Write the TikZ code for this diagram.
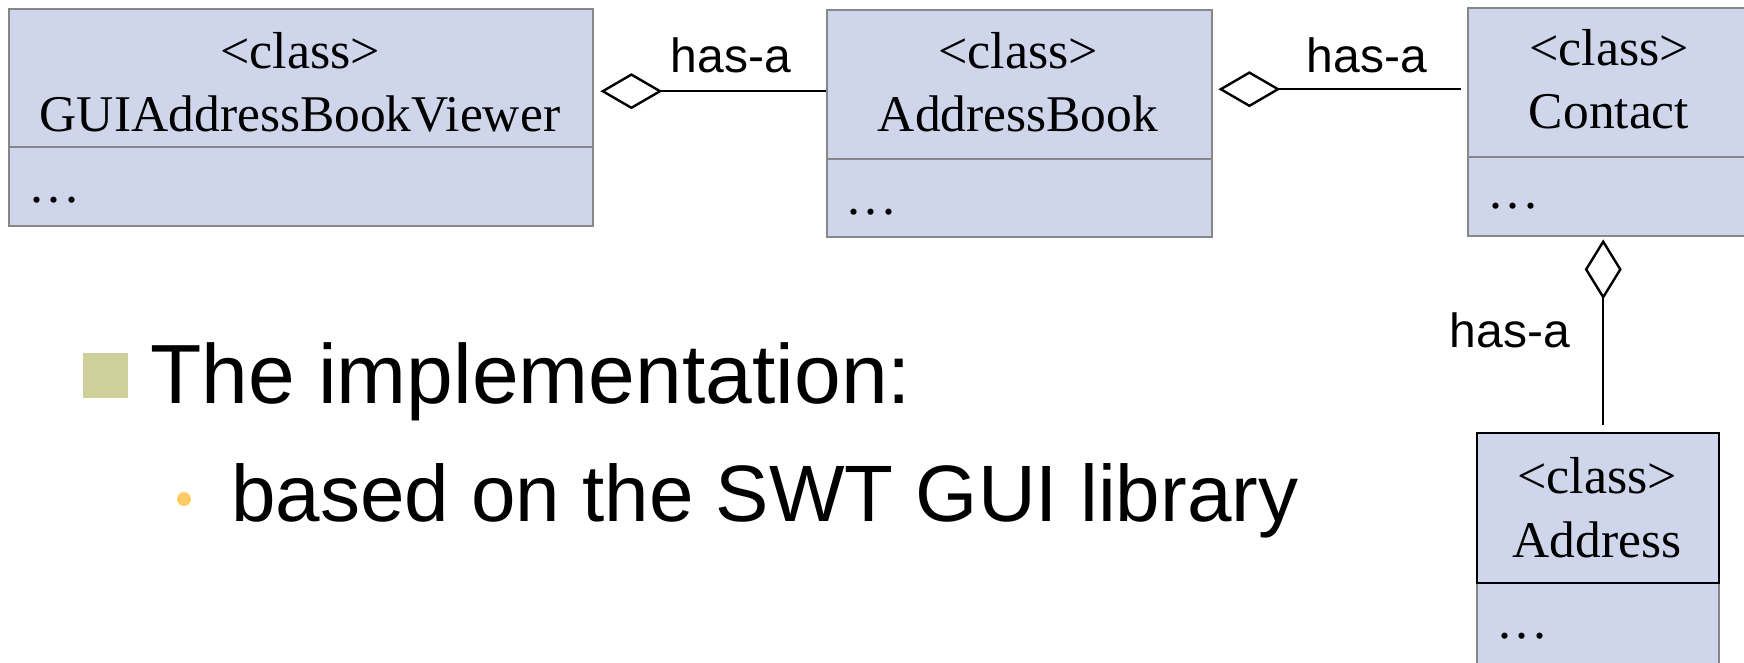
\documentclass[tikz,border=0pt]{standalone}
\usepackage{fontspec}
\setmainfont{Liberation Serif}
\setsansfont{Liberation Sans}
\usetikzlibrary{arrows.meta}
\definecolor{boxfill}{RGB}{207,213,234}
\definecolor{boxline}{RGB}{135,135,135}
\definecolor{khaki}{RGB}{207,207,155}
\definecolor{dotorange}{RGB}{255,204,102}
\newcommand{\umldots}{.\kern4.5pt.\kern4.5pt.}
\begin{document}
\begin{tikzpicture}[x=1pt,y=-1pt,
  compart/.style={draw=boxline, fill=boxfill, line width=2.4pt, inner sep=0pt, anchor=north west},
  stereo/.style={font=\fontsize{52}{60}\selectfont, anchor=base, inner sep=0pt},
  cname/.style={font=\fontsize{51.5}{60}\selectfont, anchor=base, inner sep=0pt},
  dotsty/.style={font=\fontsize{52}{60}\selectfont, anchor=base west, inner sep=0pt},
  hasa/.style={font=\sffamily\fontsize{48}{58}\selectfont, anchor=base, inner sep=0pt},
  agg/.style={line width=2.4pt, {Diamond[open, length=62pt, width=36pt]}-},
  aggv/.style={line width=2.4pt, {Diamond[open, length=60pt, width=37pt]}-}
]
\fill[white] (0,0) rectangle (1744,662);
\useasboundingbox (0,0) rectangle (1744,662);

% GUIAddressBookViewer
\node[compart, minimum width=584pt, minimum height=79pt] (guib) at (8,146) {};
\node[compart, minimum width=584pt, minimum height=138pt] (gui) at (8,8) {};
\node[stereo] (guis) at (300,68) {<class>};
\node[cname] (guin) at (300,131) {GUIAddressBookViewer};
\node[dotsty] (guid) at (30,202) {\umldots};

% AddressBook
\node[compart, minimum width=385pt, minimum height=78pt] (abb) at (826,158) {};
\node[compart, minimum width=385pt, minimum height=149pt] (ab) at (826,9) {};
\node[stereo] (abs) at (1018,68) {<class>};
\node[cname] (abn) at (1018,131) {AddressBook};
\node[dotsty] (abd) at (847,214) {\umldots};

% Contact
\node[compart, minimum width=284pt, minimum height=79pt] (ctb) at (1467,156) {};
\node[compart, minimum width=284pt, minimum height=149pt] (ct) at (1467,7) {};
\node[stereo] (cts) at (1609,65) {<class>};
\node[cname] (ctn) at (1609,128) {Contact};
\node[dotsty] (ctd) at (1489,208) {\umldots};

% Address
\node[compart, minimum width=242pt, minimum height=100pt] (adb) at (1476,582) {};
\node[compart, draw=black, minimum width=242pt, minimum height=150pt] (ad) at (1476,432) {};
\node[stereo] (ads) at (1597,493) {<class>};
\node[cname] (adn) at (1597,557) {Address};
\node[dotsty] (add) at (1498,638) {\umldots};

% connectors
\draw[agg, shorten <=6pt] ([yshift=-13pt]gui.east) -- ([yshift=-13pt]gui.east -| ab.west);
\draw[agg, shorten <=5pt, shorten >=6pt] ([yshift=-4.5pt]ab.east) -- ([yshift=-4.5pt]ab.east -| ct.west);
\draw[aggv, shorten <=2pt, shorten >=7pt] ([xshift=-7pt]ctb.south) -- ([xshift=-7pt]ctb.south |- ad.north);

\node[hasa] (h1) at (731,72) {has-a};
\node[hasa] (h2) at (1367,72) {has-a};
\node[hasa] (h3) at (1510,347) {has-a};

% bullets
\node[fill=khaki, minimum size=45pt, inner sep=0pt, anchor=north west] (sq) at (83,353) {};
\node[font=\sffamily\fontsize{84}{100}\selectfont, anchor=base west, inner sep=0pt] (impl) at (150,403) {The implementation:};
\node[circle, fill=dotorange, minimum size=14pt, inner sep=0pt] (dot) at (184,499) {};
\node[font=\sffamily\fontsize{80}{96}\selectfont, anchor=base west, inner sep=0pt] (swt) at (231,521) {based on the SWT GUI library};
\end{tikzpicture}
\end{document}
